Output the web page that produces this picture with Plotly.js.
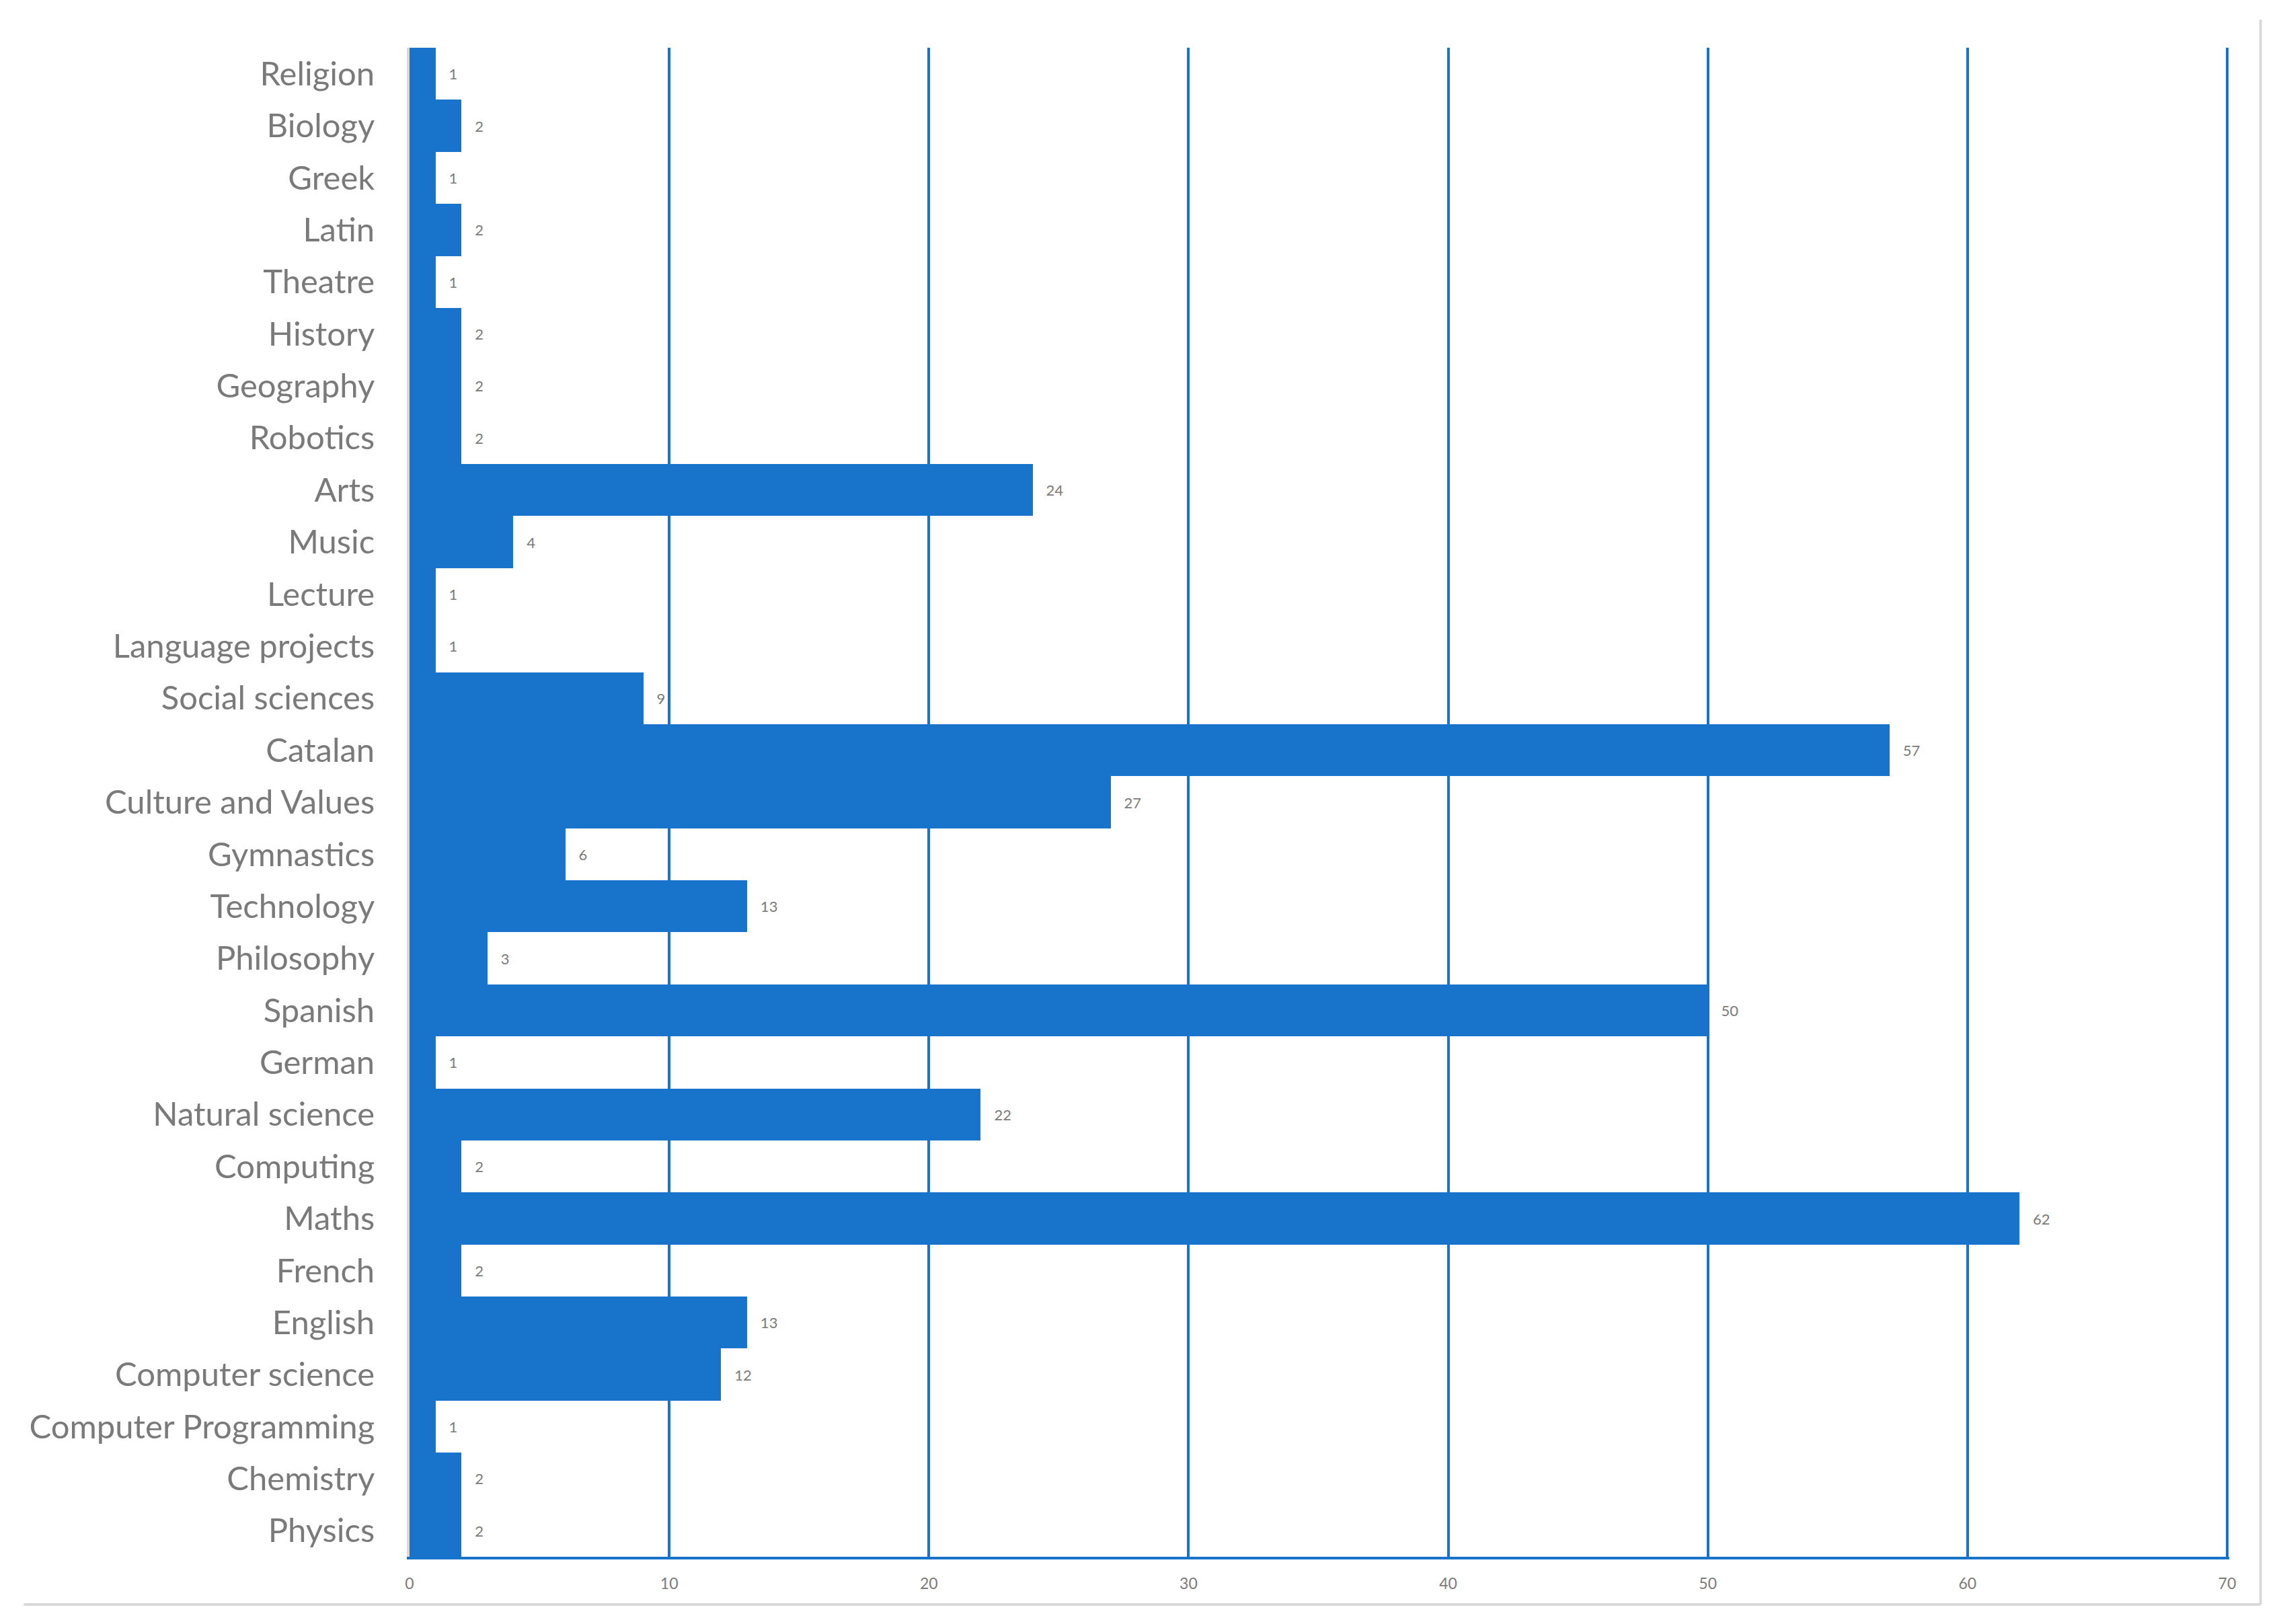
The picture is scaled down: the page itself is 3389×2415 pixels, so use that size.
<!DOCTYPE html>
<html>
<head>
<meta charset="utf-8">
<script src="https://cdn.plot.ly/plotly-3.0.1.min.js"></script>
<style>
  html, body { margin: 0; padding: 0; background: #fff; }
  #chart { width: 3389px; height: 2415px; }
</style>
</head>
<body>
<div id="chart"></div>
<script>
// subjects, listed top to bottom as in the picture
const subjects = [
  "Religion", "Biology", "Greek", "Latin", "Theatre", "History", "Geography",
  "Robotics", "Arts", "Music", "Lecture", "Language projects", "Social sciences",
  "Catalan", "Culture and Values", "Gymnastics", "Technology", "Philosophy",
  "Spanish", "German", "Natural science", "Computing", "Maths", "French",
  "English", "Computer science", "Computer Programming", "Chemistry", "Physics"
];
const counts = [
  1, 2, 1, 2, 1, 2, 2,
  2, 24, 4, 1, 1, 9,
  57, 27, 6, 13, 3,
  50, 1, 22, 2, 62, 2,
  13, 12, 1, 2, 2
];
const xTicks = [0, 10, 20, 30, 40, 50, 60, 70];

const blue = "#1874CB";
const grey = "#7a7a7a";
const frame = "#D9D9D9";
const font = "Lato, 'Open Sans', sans-serif";

const trace = {
  type: "bar",
  orientation: "h",
  x: counts,
  y: subjects,
  marker: { color: blue, line: { width: 0 } },
  texttemplate: "\u00a0\u00a0\u00a0%{x}",
  textposition: "outside",
  cliponaxis: false,
  textfont: { family: font, size: 22, color: grey },
  hoverinfo: "skip",
};

const layout = {
  width: 3389,
  height: 2415,
  margin: { l: 609, r: 74, t: 71, b: 100, pad: 0 },
  paper_bgcolor: "#fff",
  plot_bgcolor: "#fff",
  showlegend: false,
  bargap: 0,
  xaxis: {
    // a hair past 70 so the last gridline is drawn
    range: [0, 70.08],
    tickvals: xTicks,
    ticktext: xTicks.map(String),
    showgrid: true,
    gridcolor: blue,
    gridwidth: 4,
    zeroline: false,
    showline: true,
    linecolor: blue,
    linewidth: 4,
    ticks: "outside",
    ticklen: 16,
    tickcolor: "rgba(0,0,0,0)",
    tickfont: { family: font, size: 23, color: grey },
    fixedrange: true,
  },
  yaxis: {
    type: "category",
    autorange: "reversed",
    showgrid: false,
    zeroline: false,
    showline: true,
    linecolor: frame,
    linewidth: 4,
    ticks: "outside",
    ticklen: 38,
    tickcolor: "rgba(0,0,0,0)",
    tickfont: { family: font, size: 49, color: grey },
    fixedrange: true,
  },
  shapes: [
    // partial chart-area frame: bottom and right edges
    { type: "line", xref: "paper", yref: "paper", x0: -0.212, x1: 1.0172, y0: -0.0316, y1: -0.0316,
      line: { color: frame, width: 4 } },
    { type: "line", xref: "paper", yref: "paper", x0: 1.0172, x1: 1.0172, y0: -0.0316, y1: 1.0187,
      line: { color: frame, width: 4 } },
  ],
};

Plotly.newPlot("chart", [trace], layout, { staticPlot: true, displayModeBar: false });
</script>
</body>
</html>
